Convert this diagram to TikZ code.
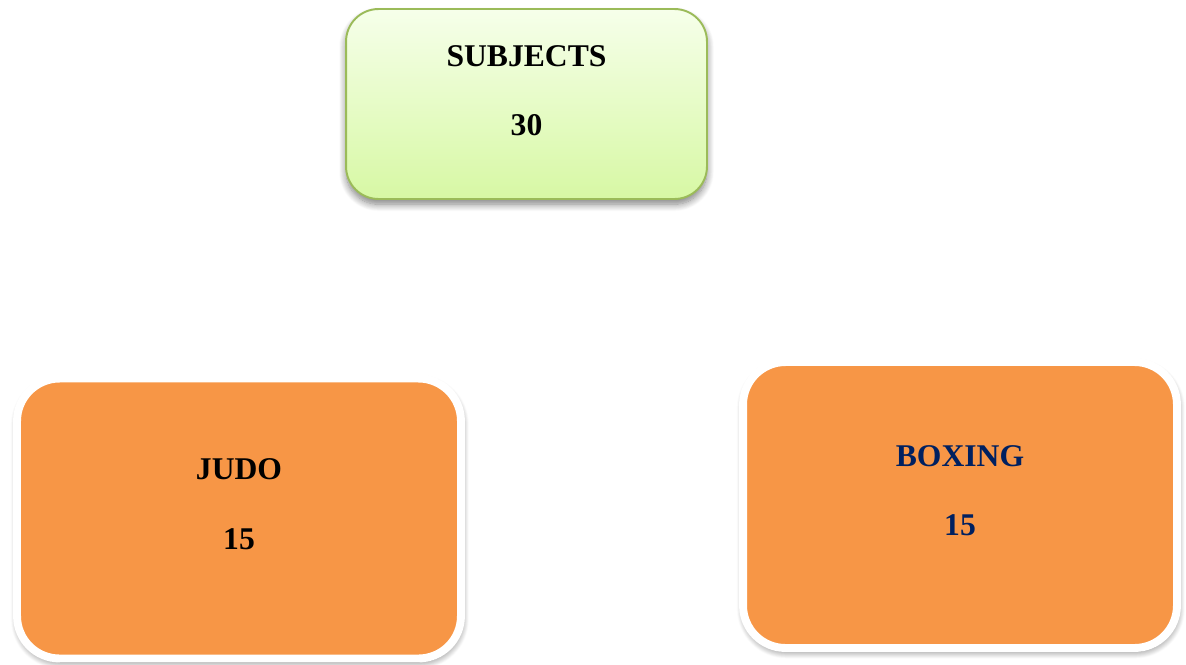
\documentclass[tikz,border=0pt]{standalone}
\usepackage{fontspec}
\setmainfont{Liberation Serif}
\usetikzlibrary{shadows.blur}
\definecolor{cTop}{HTML}{F6FFEA}
\definecolor{cBot}{HTML}{D7F8A4}
\definecolor{bTop}{HTML}{9BBB59}
\definecolor{cSport}{HTML}{F79646}
\definecolor{tNavy}{HTML}{002060}
\tikzset{
  topbox/.style={draw=bTop, line width=1.1pt, rounded corners=0.65cm,
                 top color=cTop, bottom color=cBot,
                 minimum width=7.22cm, minimum height=3.8cm,
                 blur shadow={shadow xshift=0pt, shadow yshift=-3pt, shadow blur radius=4pt,
                              shadow blur steps=10, shadow opacity=50}},
  sportbox/.style={draw=white, line width=4.5pt, rounded corners=0.85cm, fill=cSport,
                   blur shadow={shadow xshift=0.5pt, shadow yshift=-2pt, shadow blur radius=4pt,
                                shadow blur steps=10, shadow opacity=55}},
  lbl/.style={font=\fontsize{18}{20}\selectfont\bfseries, anchor=base, inner sep=0pt},
}

\begin{document}
\begin{tikzpicture}[x=0.02cm, y=-0.02cm]
\useasboundingbox (0, 0) rectangle (1186, 664);

% Top box
\node[topbox] (subj) at (526.5, 104) {};
\node[lbl] (subjname) at (526.5, 66) {SUBJECTS};
\node[lbl] (subjnum) at (526.5, 135) {30};

% Judo
\node[sportbox, minimum width=8.88cm, minimum height=5.6cm] (judo) at (239, 518.5) {};
\node[lbl] (judoname) at (239, 479) {JUDO};
\node[lbl] (judonum) at (239, 549) {15};

% Boxing
\node[sportbox, minimum width=8.68cm, minimum height=5.72cm] (boxing) at (960, 505) {};
\node[lbl, text=tNavy] (boxingname) at (960, 466) {BOXING};
\node[lbl, text=tNavy] (boxingnum) at (960, 535) {15};

\end{tikzpicture}
\end{document}
